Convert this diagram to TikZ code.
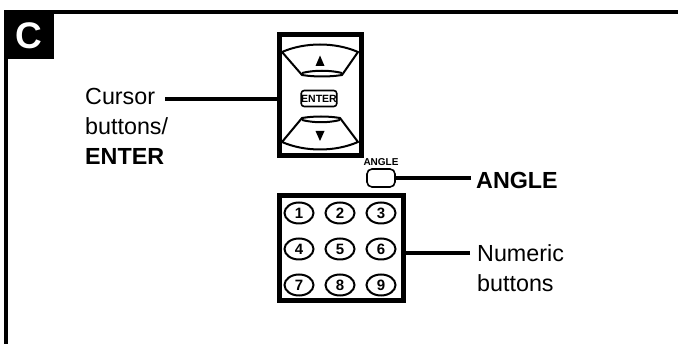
\documentclass[tikz,border=0pt]{standalone}
\usepackage{fontspec}
\setmainfont{Liberation Sans}
\usetikzlibrary{shapes.geometric}

\begin{document}
\begin{tikzpicture}[
  x=1pt, y=-1pt,
  lbl/.style     = {inner sep=0pt, align=left, font=\fontsize{23.3}{30}\selectfont},
  panel/.style   = {draw, line width=5pt, inner sep=0pt},
  lead/.style    = {line width=3.6pt},
  keyshape/.style = {line width=2pt, line join=round},
  numkey/.style  = {draw, ellipse, line width=2pt, inner sep=0pt,
                    minimum width=29pt, minimum height=21pt,
                    font=\fontsize{15}{15}\selectfont\bfseries},
]
\useasboundingbox (0,0) rectangle (678,344);

%%────────── frame and letter ────────────────────────────────
\draw[line width=4pt] (5.5,344) -- (5.5,12) -- (678,12);
\node[fill=black, text=white, minimum width=50pt, minimum height=47pt, inner sep=0pt,
      font=\fontsize{37}{37}\selectfont\bfseries] (tag) at (29,35.5) {C};

%%────────── cursor panel ────────────────────────────────────
\node[panel, minimum width=82pt, minimum height=121pt] (curpanel) at (320,95.5) {};

\draw[keyshape] (282,52) .. controls (305,42) and (335,42) .. (358,52)
  -- (342,75) .. controls (330,77) and (314,77) .. (302,75) -- cycle;
\draw[keyshape] (302,73) .. controls (314,70) and (330,70) .. (342,73);
\fill (320,55.5) -- (324.5,66) -- (315.5,66) -- cycle;

\node[draw, line width=1.6pt, rounded corners=3pt, minimum width=35pt, minimum height=16pt,
      inner sep=0pt, font=\fontsize{10.5}{10.5}\selectfont\bfseries] (enter) at (319,98.5) {ENTER};

\draw[keyshape] (282,142) .. controls (305,152) and (335,152) .. (358,142)
  -- (340,118) .. controls (328,116) and (314,116) .. (302,118) -- cycle;
\draw[keyshape] (302,120) .. controls (314,123) and (328,123) .. (340,120);
\fill (320,141) -- (324.5,131) -- (315.5,131) -- cycle;

%%────────── angle button ────────────────────────────────────
\node[font=\fontsize{10}{10}\selectfont\bfseries, inner sep=0pt] (anglecap) at (381,162) {ANGLE};
\node[draw, line width=1.6pt, rounded corners=5pt, minimum width=28pt, minimum height=18pt,
      inner sep=0pt] (anglekey) at (381,178) {};

%%────────── numeric panel ───────────────────────────────────
\node[panel, minimum width=124pt, minimum height=105pt] (numpanel) at (341.5,248) {};
\foreach \n/\kx/\ky in {1/299/213, 2/340/213, 3/381/213,
                        4/299/249, 5/340/249, 6/381/249,
                        7/299/285, 8/340/285, 9/381/285}
  \node[numkey] (key\n) at (\kx,\ky) {\n};

%%────────── labels ──────────────────────────────────────────
\node[lbl, anchor=north west] (curlbl) at (85,88) {Cursor\\buttons/\\\textbf{ENTER}};
\node[lbl, anchor=base west, font=\fontsize{23.3}{23.3}\selectfont\bfseries] (anglelbl) at (476,189) {ANGLE};
\node[lbl, anchor=north west] (numlbl) at (477,244) {Numeric\\buttons};

\coordinate (curfrom) at (165,99);
\coordinate (anglefrom) at (471,178);
\coordinate (numfrom) at (470,253);

\draw[lead] (curfrom) -- (curfrom -| curpanel.west);
\draw[lead] (anglefrom) -- (anglefrom -| anglekey.east);
\draw[lead] (numfrom) -- (numfrom -| numpanel.east);

\end{tikzpicture}
\end{document}
